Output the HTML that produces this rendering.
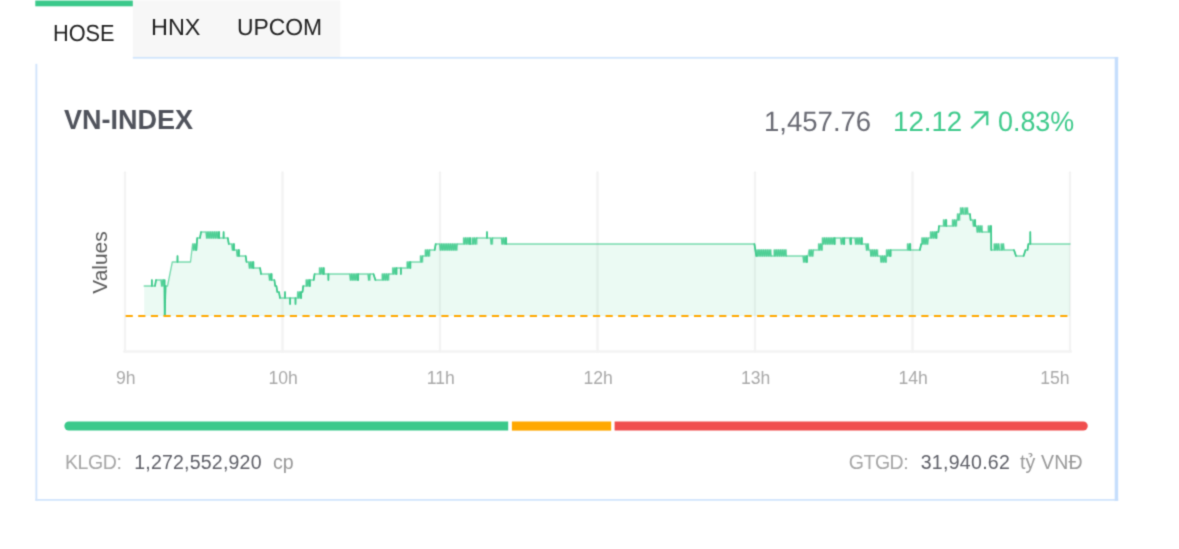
<!DOCTYPE html>
<html lang="vi">
<head>
<meta charset="utf-8">
<title>VN-INDEX</title>
<style>
html,body{margin:0;padding:0;background:#fff;}
body{width:1179px;height:549px;position:relative;overflow:hidden;font-family:"Liberation Sans",sans-serif;}
.abs{position:absolute;white-space:nowrap;line-height:1;transform-origin:0 0;z-index:2;}
.tab{font-size:23.3px;color:#222;}
.title{font-weight:bold;font-size:27.5px;color:#50535c;transform:scaleX(0.982);}
.val{font-size:28.1px;color:#6a6b74;}
.green{color:#3fca8c;}
.foot{font-size:19.5px;}
.lbl{color:#a6a6a6;}
.num{color:#5f6068;}
.unit{color:#999;}
#wrap{position:absolute;left:0;top:0;width:1179px;height:549px;filter:url(#soft);}
svg{position:absolute;left:0;top:0;}
svg text{font-family:"Liberation Sans",sans-serif;}
</style>
</head>
<body>
<svg width="0" height="0" style="position:absolute" aria-hidden="true"><defs>
<filter id="soft" x="0" y="0" width="100%" height="100%" color-interpolation-filters="sRGB">
<feConvolveMatrix order="3" kernelMatrix="0.02768 0.11101 0.02768 0.11101 0.44521 0.11101 0.02768 0.11101 0.02768" edgeMode="duplicate" preserveAlpha="false"/>
</filter></defs></svg>
<div id="wrap">

<div class="abs tab" id="t1" style="left:53.4px;top:21.55px;transform:rotate(0.03deg) scaleX(0.933);">HOSE</div>
<div class="abs tab" id="t2" style="left:151.3px;top:16.2px;transform:rotate(0.03deg) scaleX(1.006);">HNX</div>
<div class="abs tab" id="t3" style="left:236.6px;top:16.2px;transform:rotate(0.03deg) scaleX(0.982);">UPCOM</div>

<div class="abs title" id="title" style="left:64.2px;top:105.7px;">VN-INDEX</div>
<div class="abs val" id="v1" style="left:763.5px;top:107.8px;transform:rotate(0.03deg) scaleX(0.98);">1,457.76</div>
<div class="abs val green" id="v2" style="left:893.2px;top:107.8px;transform:rotate(0.03deg) scaleX(0.985);">12.12</div>
<div class="abs val green" id="v3" style="left:998.2px;top:107.8px;transform:rotate(0.03deg) scaleX(0.957);">0.83%</div>

<svg width="1179" height="549" viewBox="0 0 1179 549">
  <rect x="132.8" y="0.5" width="207.5" height="56.4" fill="#f7f7f7"/>
  <rect x="132.8" y="56.9" width="985.4" height="1.8" fill="#d2e5fc"/>
  <rect x="35.3" y="0.6" width="97.5" height="5.7" fill="#3bc98b"/>
  <rect x="35.4" y="63.8" width="1.9" height="437" fill="#d2e5fc"/>
  <rect x="35.4" y="499" width="1082.8" height="1.8" fill="#d2e5fc"/>
  <rect x="1114.7" y="57" width="3.5" height="443.8" fill="#c6defc"/>
  <path d="M68.9 421.5 H508.2 V430.6 H68.9 A4.55 4.55 0 0 1 68.9 421.5 Z" fill="#3bc98b"/>
  <rect x="511.9" y="421.5" width="99.3" height="9.1" fill="#ffa800"/>
  <path d="M614.6 421.5 H1083.2 A4.55 4.55 0 0 1 1083.2 430.6 H614.6 Z" fill="#f04e4e"/>
  <g stroke="#f3f3f3" stroke-width="2.4" fill="none" stroke-linecap="round"><line x1="125.00" y1="172.4" x2="125.00" y2="351.5"/><line x1="282.50" y1="172.4" x2="282.50" y2="351.5"/><line x1="440.00" y1="172.4" x2="440.00" y2="351.5"/><line x1="597.50" y1="172.4" x2="597.50" y2="351.5"/><line x1="755.00" y1="172.4" x2="755.00" y2="351.5"/><line x1="912.50" y1="172.4" x2="912.50" y2="351.5"/><line x1="1070.00" y1="172.4" x2="1070.00" y2="351.5"/>
    <line x1="124.2" y1="351.5" x2="1070.8" y2="351.5"/>
  </g>
  <path d="M144.2 286 L151.3 286 L151.6 286 L151.9 280 L152.2 286 L152.6 286 L155 286 L156 280 L160.8 280 L160.8 280 L161.9 286 L163.0 280 L164 280 L164.7 316 L165.6 286 L167.5 286 L172.3 262 L176.8 262 L177.2 262 L177.5 256 L177.8 262 L178.2 262 L190.5 262 L192.6 244 L193.7 250 L194.8 244 L195.9 250 L196.4 250 L197.2 238 L200 238 L201 232 L205.8 232 L205.8 232 L206.9 238 L208.0 232 L209.1 238 L210.2 232 L211.3 238 L212.4 232 L213.5 238 L214.6 232 L215.7 238 L216.8 232 L217.9 238 L219.0 232 L219.2 232 L219.2 238 L223 238 L223.3 238 L223.6 232 L223.9 238 L224.2 238 L227.8 238 L228.8 244 L231.6 244 L231.6 244 L232.7 250 L233.8 244 L234 244 L234 250 L235.4 250 L236.4 250 L237.5 256 L238.6 250 L239 250 L239 256 L245.7 256 L246.5 262 L248.6 262 L248.6 262 L249.7 268 L250.8 262 L251.9 268 L253.0 262 L253.4 262 L253.4 268 L260.1 268 L261 274 L268.7 274 L268.7 274 L269.8 280 L270.9 274 L271.6 274 L271.6 280 L274.4 280 L275.2 286 L276.4 286 L277.3 292 L279 292 L280 298 L284.4 298 L284.7 298 L285 292 L285.3 298 L285.6 298 L289.4 298 L289.8 298 L290.1 304 L290.4 298 L290.8 298 L294.8 298 L295.2 298 L295.5 304 L295.8 298 L296.2 298 L297.4 298 L297.6 292 L298.7 298 L299.8 292 L300.9 298 L301.2 298 L301.2 292 L302.5 292 L303.2 286 L306 286 L306 280 L307.1 286 L308.2 280 L309.3 286 L309.9 286 L309.9 280 L313.7 280 L314.6 274 L319.4 274 L319.4 268 L320.5 274 L321.6 268 L322.7 274 L323.8 268 L323.8 268 L323.8 274 L327.8 274 L328.1 274 L328.4 280 L328.7 274 L329 274 L349.6 274 L349.6 274 L350.7 280 L351.8 274 L352.9 280 L354.0 274 L355.1 280 L356.2 274 L357.3 280 L358.2 280 L358.2 274 L367.8 274 L367.8 274 L368.9 280 L370.0 274 L370.6 274 L370.6 274 L373.5 274 L375.4 280 L382.1 280 L382.1 274 L383.2 280 L384.3 274 L385.4 280 L386.5 274 L387.6 280 L388.7 274 L389.4 274 L389.4 274 L392.6 274 L392.6 268 L393.7 274 L394.8 268 L395.9 274 L396.5 274 L396.5 268 L400.3 268 L400.6 268 L400.9 274 L401.2 268 L401.5 268 L407 268 L407 262 L408.1 268 L409.2 262 L410.3 268 L410.4 268 L410.4 262 L420.4 262 L420.4 256 L421.5 262 L422.6 256 L423.3 256 L423.3 256 L425.2 256 L425.2 250 L426.3 256 L427.4 250 L428.5 256 L429.6 250 L430.3 250 L430.3 250 L434.7 250 L435.7 244 L439.5 244 L439.5 244 L440.6 250 L441.7 244 L442.8 250 L443.9 244 L445.0 250 L446.1 244 L447.2 250 L448.3 244 L449.4 250 L450.5 244 L451.6 250 L452.7 244 L453.8 250 L454.9 244 L456.0 250 L457.1 244 L457.7 244 L457.7 244 L463.5 244 L463.5 238 L464.6 244 L465.7 238 L466.8 244 L467.9 238 L469.0 244 L470.1 238 L470.2 238 L470.2 244 L472.1 244 L472.1 238 L473.2 244 L474.3 238 L475.4 244 L476.5 238 L477.5 238 L477.5 238 L486.4 238 L486.7 238 L487 232 L487.3 238 L487.6 238 L490.3 238 L490.3 238 L491.4 244 L492.5 238 L493.2 238 L493.2 238 L501.2 238 L501.2 238 L502.3 244 L503.4 238 L504.5 244 L505.6 238 L506.2 238 L506.2 244 L754.4 244 L756.3 256 L756.8 256 L756.8 250 L757.9 256 L759.0 250 L760.1 256 L761.2 250 L762.3 256 L763.4 250 L764.5 256 L765.6 250 L766.7 256 L767.8 250 L768.9 256 L770.0 250 L771.1 256 L771.6 256 L771.6 256 L774 256 L774 250 L775.1 256 L776.2 250 L777.3 256 L778.4 250 L779.5 256 L780.6 250 L781.7 256 L782.8 250 L783.9 256 L785.0 250 L786.1 256 L786.9 256 L786.9 256 L802.8 256 L802.8 256 L803.9 262 L805.0 256 L806.1 262 L807 262 L807 256 L808 256 L809 250 L810.1 256 L811.2 250 L812.3 256 L813.4 250 L813.7 250 L813.7 250 L818.5 250 L818.5 244 L819.6 250 L820.7 244 L821.8 250 L822.3 250 L822.3 238 L823.4 244 L824.5 238 L825.6 244 L826.7 238 L827.8 244 L828.9 238 L830.0 244 L831.1 238 L832.2 244 L833.3 238 L834.4 244 L834.7 244 L834.7 238 L840.5 238 L840.5 238 L841.6 244 L842.7 238 L843.8 244 L844.3 244 L844.3 238 L849.5 238 L849.5 238 L850.6 244 L851 244 L851 238 L854.8 238 L854.8 238 L855.9 244 L857.0 238 L858.1 244 L859.2 238 L860.3 244 L861.4 238 L861.9 238 L861.9 244 L865.7 244 L865.7 244 L866.8 250 L867.9 244 L869.0 250 L869.1 250 L870 250 L871.1 256 L872.2 250 L873.3 256 L874.4 250 L875.5 256 L876.6 250 L877.7 256 L878.3 256 L878.3 256 L880.2 256 L880.2 256 L881.3 262 L882.4 256 L883.5 262 L884.6 256 L885.7 262 L886.4 262 L886.4 250 L887.5 256 L888.6 250 L889.7 256 L890.6 256 L890.6 250 L907.4 250 L907.4 244 L908.5 250 L909.6 244 L910.3 244 L910.3 250 L919.9 250 L921.2 244 L921.8 244 L921.8 238 L922.9 244 L924.0 238 L925.1 244 L926.2 238 L927.3 244 L928.4 238 L928.5 238 L928.5 238 L930.4 238 L930.4 232 L931.5 238 L932.6 232 L933.7 238 L934.8 232 L935.9 238 L936.5 238 L936.5 232 L938.4 232 L939 226 L943.4 226 L943.4 220 L944.5 226 L945.6 220 L946.3 220 L946.3 226 L952.4 226 L952.4 220 L953.5 226 L954.6 220 L955.7 226 L956.8 220 L957.2 220 L957.4 214 L958.5 220 L959.6 214 L960.4 214 L960.4 208 L961.5 214 L962.6 208 L963.7 214 L963.8 214 L963.8 214 L964.8 214 L964.8 208 L965.9 214 L967.0 208 L968.1 214 L968.3 214 L968.3 214 L970 214 L970.6 220 L972.6 220 L972.6 220 L973.7 226 L974.8 220 L975.2 220 L975.2 226 L976.4 226 L976.4 226 L977.5 232 L978.6 226 L979.7 232 L980.8 226 L981.9 232 L982.9 232 L982.9 232 L988.2 232 L988.2 226 L989.3 232 L990.4 226 L991.1 226 L991.3 250 L994 250 L994 244 L995.1 250 L996.2 244 L997.3 250 L998.4 244 L999.5 250 L999.6 250 L999.6 250 L1001 250 L1001 244 L1002.1 250 L1003.2 244 L1004.3 250 L1004.3 250 L1004.3 250 L1014 250 L1016 256 L1023.6 256 L1025.5 250 L1027.5 250 L1028.4 244 L1029.6 244 L1030.0 244 L1030.3 232 L1030.6 244 L1031 244 L1070 244 L1070 316 L144.2 316 Z" fill="#3fca8c" fill-opacity="0.1" stroke="none"/>
  <path d="M144.2 286 L151.3 286 L151.6 286 L151.9 280 L152.2 286 L152.6 286 L155 286 L156 280 L160.8 280 L160.8 280 L161.9 286 L163.0 280 L164 280 L164.7 316 L165.6 286 L167.5 286 L172.3 262 L176.8 262 L177.2 262 L177.5 256 L177.8 262 L178.2 262 L190.5 262 L192.6 244 L193.7 250 L194.8 244 L195.9 250 L196.4 250 L197.2 238 L200 238 L201 232 L205.8 232 L205.8 232 L206.9 238 L208.0 232 L209.1 238 L210.2 232 L211.3 238 L212.4 232 L213.5 238 L214.6 232 L215.7 238 L216.8 232 L217.9 238 L219.0 232 L219.2 232 L219.2 238 L223 238 L223.3 238 L223.6 232 L223.9 238 L224.2 238 L227.8 238 L228.8 244 L231.6 244 L231.6 244 L232.7 250 L233.8 244 L234 244 L234 250 L235.4 250 L236.4 250 L237.5 256 L238.6 250 L239 250 L239 256 L245.7 256 L246.5 262 L248.6 262 L248.6 262 L249.7 268 L250.8 262 L251.9 268 L253.0 262 L253.4 262 L253.4 268 L260.1 268 L261 274 L268.7 274 L268.7 274 L269.8 280 L270.9 274 L271.6 274 L271.6 280 L274.4 280 L275.2 286 L276.4 286 L277.3 292 L279 292 L280 298 L284.4 298 L284.7 298 L285 292 L285.3 298 L285.6 298 L289.4 298 L289.8 298 L290.1 304 L290.4 298 L290.8 298 L294.8 298 L295.2 298 L295.5 304 L295.8 298 L296.2 298 L297.4 298 L297.6 292 L298.7 298 L299.8 292 L300.9 298 L301.2 298 L301.2 292 L302.5 292 L303.2 286 L306 286 L306 280 L307.1 286 L308.2 280 L309.3 286 L309.9 286 L309.9 280 L313.7 280 L314.6 274 L319.4 274 L319.4 268 L320.5 274 L321.6 268 L322.7 274 L323.8 268 L323.8 268 L323.8 274 L327.8 274 L328.1 274 L328.4 280 L328.7 274 L329 274 L349.6 274 L349.6 274 L350.7 280 L351.8 274 L352.9 280 L354.0 274 L355.1 280 L356.2 274 L357.3 280 L358.2 280 L358.2 274 L367.8 274 L367.8 274 L368.9 280 L370.0 274 L370.6 274 L370.6 274 L373.5 274 L375.4 280 L382.1 280 L382.1 274 L383.2 280 L384.3 274 L385.4 280 L386.5 274 L387.6 280 L388.7 274 L389.4 274 L389.4 274 L392.6 274 L392.6 268 L393.7 274 L394.8 268 L395.9 274 L396.5 274 L396.5 268 L400.3 268 L400.6 268 L400.9 274 L401.2 268 L401.5 268 L407 268 L407 262 L408.1 268 L409.2 262 L410.3 268 L410.4 268 L410.4 262 L420.4 262 L420.4 256 L421.5 262 L422.6 256 L423.3 256 L423.3 256 L425.2 256 L425.2 250 L426.3 256 L427.4 250 L428.5 256 L429.6 250 L430.3 250 L430.3 250 L434.7 250 L435.7 244 L439.5 244 L439.5 244 L440.6 250 L441.7 244 L442.8 250 L443.9 244 L445.0 250 L446.1 244 L447.2 250 L448.3 244 L449.4 250 L450.5 244 L451.6 250 L452.7 244 L453.8 250 L454.9 244 L456.0 250 L457.1 244 L457.7 244 L457.7 244 L463.5 244 L463.5 238 L464.6 244 L465.7 238 L466.8 244 L467.9 238 L469.0 244 L470.1 238 L470.2 238 L470.2 244 L472.1 244 L472.1 238 L473.2 244 L474.3 238 L475.4 244 L476.5 238 L477.5 238 L477.5 238 L486.4 238 L486.7 238 L487 232 L487.3 238 L487.6 238 L490.3 238 L490.3 238 L491.4 244 L492.5 238 L493.2 238 L493.2 238 L501.2 238 L501.2 238 L502.3 244 L503.4 238 L504.5 244 L505.6 238 L506.2 238 L506.2 244 L754.4 244 L756.3 256 L756.8 256 L756.8 250 L757.9 256 L759.0 250 L760.1 256 L761.2 250 L762.3 256 L763.4 250 L764.5 256 L765.6 250 L766.7 256 L767.8 250 L768.9 256 L770.0 250 L771.1 256 L771.6 256 L771.6 256 L774 256 L774 250 L775.1 256 L776.2 250 L777.3 256 L778.4 250 L779.5 256 L780.6 250 L781.7 256 L782.8 250 L783.9 256 L785.0 250 L786.1 256 L786.9 256 L786.9 256 L802.8 256 L802.8 256 L803.9 262 L805.0 256 L806.1 262 L807 262 L807 256 L808 256 L809 250 L810.1 256 L811.2 250 L812.3 256 L813.4 250 L813.7 250 L813.7 250 L818.5 250 L818.5 244 L819.6 250 L820.7 244 L821.8 250 L822.3 250 L822.3 238 L823.4 244 L824.5 238 L825.6 244 L826.7 238 L827.8 244 L828.9 238 L830.0 244 L831.1 238 L832.2 244 L833.3 238 L834.4 244 L834.7 244 L834.7 238 L840.5 238 L840.5 238 L841.6 244 L842.7 238 L843.8 244 L844.3 244 L844.3 238 L849.5 238 L849.5 238 L850.6 244 L851 244 L851 238 L854.8 238 L854.8 238 L855.9 244 L857.0 238 L858.1 244 L859.2 238 L860.3 244 L861.4 238 L861.9 238 L861.9 244 L865.7 244 L865.7 244 L866.8 250 L867.9 244 L869.0 250 L869.1 250 L870 250 L871.1 256 L872.2 250 L873.3 256 L874.4 250 L875.5 256 L876.6 250 L877.7 256 L878.3 256 L878.3 256 L880.2 256 L880.2 256 L881.3 262 L882.4 256 L883.5 262 L884.6 256 L885.7 262 L886.4 262 L886.4 250 L887.5 256 L888.6 250 L889.7 256 L890.6 256 L890.6 250 L907.4 250 L907.4 244 L908.5 250 L909.6 244 L910.3 244 L910.3 250 L919.9 250 L921.2 244 L921.8 244 L921.8 238 L922.9 244 L924.0 238 L925.1 244 L926.2 238 L927.3 244 L928.4 238 L928.5 238 L928.5 238 L930.4 238 L930.4 232 L931.5 238 L932.6 232 L933.7 238 L934.8 232 L935.9 238 L936.5 238 L936.5 232 L938.4 232 L939 226 L943.4 226 L943.4 220 L944.5 226 L945.6 220 L946.3 220 L946.3 226 L952.4 226 L952.4 220 L953.5 226 L954.6 220 L955.7 226 L956.8 220 L957.2 220 L957.4 214 L958.5 220 L959.6 214 L960.4 214 L960.4 208 L961.5 214 L962.6 208 L963.7 214 L963.8 214 L963.8 214 L964.8 214 L964.8 208 L965.9 214 L967.0 208 L968.1 214 L968.3 214 L968.3 214 L970 214 L970.6 220 L972.6 220 L972.6 220 L973.7 226 L974.8 220 L975.2 220 L975.2 226 L976.4 226 L976.4 226 L977.5 232 L978.6 226 L979.7 232 L980.8 226 L981.9 232 L982.9 232 L982.9 232 L988.2 232 L988.2 226 L989.3 232 L990.4 226 L991.1 226 L991.3 250 L994 250 L994 244 L995.1 250 L996.2 244 L997.3 250 L998.4 244 L999.5 250 L999.6 250 L999.6 250 L1001 250 L1001 244 L1002.1 250 L1003.2 244 L1004.3 250 L1004.3 250 L1004.3 250 L1014 250 L1016 256 L1023.6 256 L1025.5 250 L1027.5 250 L1028.4 244 L1029.6 244 L1030.0 244 L1030.3 232 L1030.6 244 L1031 244 L1070 244" fill="none" stroke="#3fca8c" stroke-opacity="0.68" stroke-width="1.35" stroke-linejoin="round" stroke-linecap="round"/>
  <g fill="#3fca8c" fill-opacity="0.7" stroke="none"><rect x="160.8" y="279.4" width="3.2" height="7.2"/><rect x="192.6" y="243.4" width="3.8" height="7.2"/><rect x="205.8" y="231.4" width="13.4" height="7.2"/><rect x="231.6" y="243.4" width="2.4" height="7.2"/><rect x="236.4" y="249.4" width="2.6" height="7.2"/><rect x="248.6" y="261.4" width="4.8" height="7.2"/><rect x="268.7" y="273.4" width="2.9" height="7.2"/><rect x="297.6" y="291.4" width="3.6" height="7.2"/><rect x="306.0" y="279.4" width="3.9" height="7.2"/><rect x="319.4" y="267.4" width="4.4" height="7.2"/><rect x="349.6" y="273.4" width="8.6" height="7.2"/><rect x="367.8" y="273.4" width="2.8" height="7.2"/><rect x="382.1" y="273.4" width="7.3" height="7.2"/><rect x="392.6" y="267.4" width="3.9" height="7.2"/><rect x="407.0" y="261.4" width="3.4" height="7.2"/><rect x="420.4" y="255.4" width="2.9" height="7.2"/><rect x="425.2" y="249.4" width="5.1" height="7.2"/><rect x="439.5" y="243.4" width="18.2" height="7.2"/><rect x="463.5" y="237.4" width="6.7" height="7.2"/><rect x="472.1" y="237.4" width="5.4" height="7.2"/><rect x="490.3" y="237.4" width="2.9" height="7.2"/><rect x="501.2" y="237.4" width="5.0" height="7.2"/><rect x="756.8" y="249.4" width="14.8" height="7.2"/><rect x="774.0" y="249.4" width="12.9" height="7.2"/><rect x="802.8" y="255.4" width="4.2" height="7.2"/><rect x="809.0" y="249.4" width="4.7" height="7.2"/><rect x="818.5" y="243.4" width="3.8" height="7.2"/><rect x="822.3" y="237.4" width="12.4" height="7.2"/><rect x="840.5" y="237.4" width="3.8" height="7.2"/><rect x="849.5" y="237.4" width="1.5" height="7.2"/><rect x="854.8" y="237.4" width="7.1" height="7.2"/><rect x="865.7" y="243.4" width="3.4" height="7.2"/><rect x="870.0" y="249.4" width="8.3" height="7.2"/><rect x="880.2" y="255.4" width="6.2" height="7.2"/><rect x="886.4" y="249.4" width="4.2" height="7.2"/><rect x="907.4" y="243.4" width="2.9" height="7.2"/><rect x="921.8" y="237.4" width="6.7" height="7.2"/><rect x="930.4" y="231.4" width="6.1" height="7.2"/><rect x="943.4" y="219.4" width="2.9" height="7.2"/><rect x="952.4" y="219.4" width="4.8" height="7.2"/><rect x="957.4" y="213.4" width="3.0" height="7.2"/><rect x="960.4" y="207.4" width="3.4" height="7.2"/><rect x="964.8" y="207.4" width="3.5" height="7.2"/><rect x="972.6" y="219.4" width="2.6" height="7.2"/><rect x="976.4" y="225.4" width="6.5" height="7.2"/><rect x="988.2" y="225.4" width="2.9" height="7.2"/><rect x="994.0" y="243.4" width="5.6" height="7.2"/><rect x="1001.0" y="243.4" width="3.3" height="7.2"/></g>
  <g stroke="#3fca8c" stroke-width="1.7" stroke-linecap="round"><line x1="151.9" y1="286.0" x2="151.9" y2="280.0"/><line x1="155.0" y1="286.0" x2="156.0" y2="280.0"/><line x1="164.7" y1="280.0" x2="164.7" y2="316.0"/><line x1="164.7" y1="316.0" x2="165.6" y2="286.0"/><line x1="177.5" y1="262.0" x2="177.5" y2="256.0"/><line x1="196.4" y1="250.0" x2="197.2" y2="238.0"/><line x1="200.0" y1="238.0" x2="201.0" y2="232.0"/><line x1="219.2" y1="232.0" x2="219.2" y2="238.0"/><line x1="223.6" y1="238.0" x2="223.6" y2="232.0"/><line x1="227.8" y1="238.0" x2="228.8" y2="244.0"/><line x1="234.0" y1="244.0" x2="234.0" y2="250.0"/><line x1="239.0" y1="250.0" x2="239.0" y2="256.0"/><line x1="245.7" y1="256.0" x2="246.5" y2="262.0"/><line x1="253.4" y1="262.0" x2="253.4" y2="268.0"/><line x1="260.1" y1="268.0" x2="261.0" y2="274.0"/><line x1="271.6" y1="274.0" x2="271.6" y2="280.0"/><line x1="274.4" y1="280.0" x2="275.2" y2="286.0"/><line x1="276.4" y1="286.0" x2="277.3" y2="292.0"/><line x1="279.0" y1="292.0" x2="280.0" y2="298.0"/><line x1="285.0" y1="298.0" x2="285.0" y2="292.0"/><line x1="290.1" y1="298.0" x2="290.1" y2="304.0"/><line x1="295.5" y1="298.0" x2="295.5" y2="304.0"/><line x1="301.2" y1="298.0" x2="301.2" y2="292.0"/><line x1="302.5" y1="292.0" x2="303.2" y2="286.0"/><line x1="309.9" y1="286.0" x2="309.9" y2="280.0"/><line x1="313.7" y1="280.0" x2="314.6" y2="274.0"/><line x1="323.8" y1="268.0" x2="323.8" y2="274.0"/><line x1="328.4" y1="274.0" x2="328.4" y2="280.0"/><line x1="358.2" y1="280.0" x2="358.2" y2="274.0"/><line x1="373.5" y1="274.0" x2="375.4" y2="280.0"/><line x1="396.5" y1="274.0" x2="396.5" y2="268.0"/><line x1="400.9" y1="268.0" x2="400.9" y2="274.0"/><line x1="410.4" y1="268.0" x2="410.4" y2="262.0"/><line x1="434.7" y1="250.0" x2="435.7" y2="244.0"/><line x1="470.2" y1="238.0" x2="470.2" y2="244.0"/><line x1="487.0" y1="238.0" x2="487.0" y2="232.0"/><line x1="506.2" y1="238.0" x2="506.2" y2="244.0"/><line x1="754.4" y1="244.0" x2="756.3" y2="256.0"/><line x1="807.0" y1="262.0" x2="807.0" y2="256.0"/><line x1="834.7" y1="244.0" x2="834.7" y2="238.0"/><line x1="844.3" y1="244.0" x2="844.3" y2="238.0"/><line x1="851.0" y1="244.0" x2="851.0" y2="238.0"/><line x1="861.9" y1="238.0" x2="861.9" y2="244.0"/><line x1="890.6" y1="256.0" x2="890.6" y2="250.0"/><line x1="910.3" y1="244.0" x2="910.3" y2="250.0"/><line x1="919.9" y1="250.0" x2="921.2" y2="244.0"/><line x1="936.5" y1="238.0" x2="936.5" y2="232.0"/><line x1="938.4" y1="232.0" x2="939.0" y2="226.0"/><line x1="946.3" y1="220.0" x2="946.3" y2="226.0"/><line x1="970.0" y1="214.0" x2="970.6" y2="220.0"/><line x1="975.2" y1="220.0" x2="975.2" y2="226.0"/><line x1="991.1" y1="226.0" x2="991.3" y2="250.0"/><line x1="1014.0" y1="250.0" x2="1016.0" y2="256.0"/><line x1="1023.6" y1="256.0" x2="1025.5" y2="250.0"/><line x1="1027.5" y1="250.0" x2="1028.4" y2="244.0"/><line x1="1030.3" y1="244.0" x2="1030.3" y2="232.0"/></g>
  <line x1="125.6" y1="316" x2="1070" y2="316" stroke="#ffa800" stroke-width="2" stroke-dasharray="7.2 5.43"/>
  <g font-size="17.6" fill="#a9a9a9"><text x="125.70" y="384.3" text-anchor="middle">9h</text><text x="283.20" y="384.3" text-anchor="middle">10h</text><text x="440.70" y="384.3" text-anchor="middle">11h</text><text x="598.20" y="384.3" text-anchor="middle">12h</text><text x="755.70" y="384.3" text-anchor="middle">13h</text><text x="913.20" y="384.3" text-anchor="middle">14h</text><text x="1069.5" y="384.3" text-anchor="end">15h</text></g>
  <text id="ylab" x="0" y="0" transform="translate(107.3 262.5) rotate(-90)" text-anchor="middle" font-size="20.9" fill="#5c5c5c">Values</text>
  <g id="arrow" fill="none" stroke="#3fca8c" stroke-width="2.2">
    <path d="M971.3 128.2 L987.2 112.4 M974.5 112.4 H987.3 V125.2"/>
  </g>
</svg>

<div class="abs foot lbl" id="f1" style="left:64.9px;top:452.5px;letter-spacing:-0.35px;">KLGD:</div>
<div class="abs foot num" id="f2" style="left:134.2px;top:452.5px;letter-spacing:0.22px;">1,272,552,920</div>
<div class="abs foot unit" id="f3" style="left:273px;top:452.5px;">cp</div>
<div class="abs foot lbl" id="f4" style="left:848.8px;top:452.5px;letter-spacing:-0.5px;">GTGD:</div>
<div class="abs foot num" id="f5" style="left:920.7px;top:452.5px;letter-spacing:0.3px;">31,940.62</div>
<div class="abs foot unit" id="f6" style="left:1020px;top:452.5px;letter-spacing:0.15px;">tỷ VNĐ</div>
</div></body>
</html>
